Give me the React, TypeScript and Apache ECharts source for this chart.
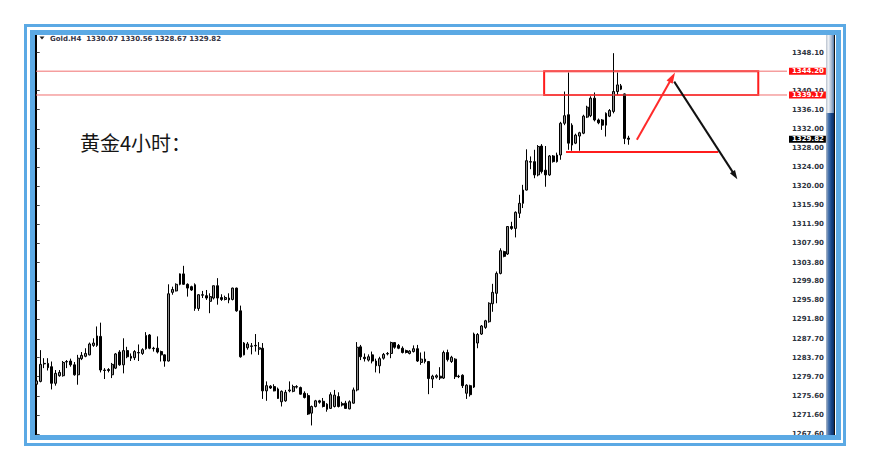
import React, { useEffect, useRef } from 'react';
import * as echarts from 'echarts';

// open, close, low, high  (one entry per 4-hour bar, oldest first)
const ohlc: [number, number, number, number][] = [
  [1278.1, 1278.8, 1277.9, 1279.0], [1278.7, 1282.3, 1278.5, 1285.3], [1282.5, 1282.4, 1281.5, 1283.6],
  [1282.5, 1281.6, 1281.0, 1283.6], [1281.8, 1278.3, 1277.0, 1282.9], [1278.3, 1280.4, 1277.8, 1281.1],
  [1279.9, 1280.6, 1279.7, 1281.1], [1279.9, 1282.7, 1279.7, 1283.0], [1282.8, 1282.9, 1281.5, 1283.2],
  [1283.0, 1282.2, 1281.8, 1283.5], [1282.2, 1280.1, 1279.9, 1282.8], [1280.1, 1283.6, 1278.0, 1284.3],
  [1283.5, 1284.2, 1283.2, 1284.9], [1284.0, 1284.6, 1283.8, 1285.7], [1284.3, 1286.6, 1284.2, 1286.9],
  [1286.3, 1286.8, 1286.0, 1287.8], [1286.3, 1288.3, 1286.0, 1290.3], [1288.2, 1281.1, 1280.6, 1291.1],
  [1281.0, 1281.1, 1279.2, 1281.5], [1281.2, 1281.0, 1280.6, 1281.5], [1280.1, 1282.3, 1279.4, 1282.6],
  [1281.5, 1284.5, 1281.3, 1284.7], [1284.9, 1282.2, 1282.0, 1285.3], [1282.2, 1285.2, 1280.4, 1287.8],
  [1285.2, 1283.9, 1283.6, 1286.0], [1284.0, 1283.6, 1283.0, 1284.6], [1283.7, 1285.0, 1283.2, 1285.3],
  [1284.8, 1284.7, 1283.0, 1286.5], [1284.6, 1285.4, 1284.3, 1285.7], [1285.6, 1288.4, 1285.4, 1289.1],
  [1288.5, 1285.7, 1285.5, 1288.7], [1285.7, 1285.6, 1285.0, 1286.0], [1285.7, 1284.9, 1284.6, 1288.2],
  [1285.0, 1284.3, 1282.9, 1285.2], [1284.3, 1283.0, 1281.8, 1284.4], [1283.0, 1297.2, 1282.9, 1299.2],
  [1297.5, 1298.1, 1297.0, 1298.7], [1297.8, 1299.2, 1297.7, 1299.4], [1299.2, 1301.4, 1299.0, 1301.5],
  [1301.4, 1299.2, 1299.1, 1303.1], [1299.2, 1298.4, 1296.6, 1299.4], [1298.7, 1298.0, 1297.8, 1298.9],
  [1299.1, 1294.1, 1293.6, 1299.4], [1294.1, 1297.0, 1293.6, 1297.1], [1297.0, 1296.9, 1296.3, 1297.8],
  [1296.8, 1296.3, 1295.9, 1298.0], [1295.6, 1296.6, 1293.1, 1297.3], [1296.3, 1298.9, 1296.0, 1298.9],
  [1298.9, 1296.3, 1294.9, 1300.5], [1296.4, 1296.0, 1295.7, 1297.1], [1296.0, 1296.4, 1295.8, 1296.8],
  [1296.3, 1295.9, 1295.2, 1297.3], [1296.0, 1298.4, 1295.8, 1298.5], [1298.4, 1293.6, 1293.4, 1298.5],
  [1293.6, 1283.9, 1283.7, 1294.7], [1284.3, 1286.8, 1284.2, 1287.0], [1285.8, 1286.6, 1285.4, 1287.0],
  [1286.2, 1286.1, 1284.4, 1286.8], [1286.3, 1286.2, 1285.0, 1288.7], [1285.5, 1285.8, 1284.3, 1287.0],
  [1285.7, 1276.7, 1275.0, 1286.8], [1276.7, 1277.8, 1274.6, 1278.7], [1277.7, 1277.3, 1277.1, 1277.9],
  [1277.6, 1276.7, 1276.6, 1278.1], [1277.1, 1275.1, 1275.0, 1277.4], [1274.4, 1276.6, 1273.4, 1276.8],
  [1274.6, 1276.4, 1274.4, 1276.9], [1276.7, 1276.9, 1276.4, 1278.7], [1276.6, 1277.6, 1276.4, 1278.0],
  [1277.6, 1277.5, 1277.2, 1277.9], [1277.4, 1276.0, 1275.9, 1277.6], [1276.2, 1275.3, 1275.1, 1276.6],
  [1275.7, 1271.8, 1271.6, 1276.2], [1272.0, 1273.4, 1269.4, 1273.6], [1273.4, 1274.6, 1273.2, 1274.8],
  [1274.6, 1274.3, 1274.0, 1274.8], [1274.5, 1273.4, 1273.2, 1275.2], [1272.8, 1273.9, 1272.3, 1274.1],
  [1273.0, 1275.9, 1272.9, 1276.4], [1273.4, 1275.8, 1273.2, 1276.9], [1275.5, 1273.4, 1273.2, 1276.4],
  [1274.0, 1273.7, 1273.4, 1274.4], [1274.1, 1273.0, 1272.9, 1274.6], [1272.9, 1274.4, 1272.8, 1274.7],
  [1274.1, 1276.9, 1274.0, 1277.4], [1276.9, 1285.9, 1276.6, 1287.0], [1286.0, 1283.9, 1283.2, 1286.4],
  [1283.8, 1283.5, 1282.9, 1284.6], [1283.2, 1283.9, 1282.9, 1284.4], [1284.3, 1283.0, 1282.5, 1285.0],
  [1283.0, 1282.0, 1280.6, 1283.5], [1282.0, 1283.5, 1280.4, 1283.9], [1283.6, 1284.4, 1283.3, 1284.7],
  [1284.5, 1284.6, 1284.2, 1284.9], [1284.6, 1286.9, 1283.6, 1287.1], [1286.9, 1285.9, 1285.6, 1287.0],
  [1286.3, 1285.7, 1285.5, 1286.6], [1285.7, 1284.8, 1284.6, 1286.1], [1285.2, 1284.8, 1284.6, 1285.4],
  [1284.6, 1285.1, 1284.4, 1285.3], [1285.0, 1285.6, 1284.8, 1286.3], [1285.6, 1283.0, 1282.8, 1286.4],
  [1282.7, 1283.4, 1282.2, 1284.8], [1283.4, 1282.9, 1282.5, 1285.0], [1282.9, 1279.3, 1276.0, 1283.0],
  [1279.2, 1279.8, 1277.3, 1280.1], [1279.6, 1279.9, 1279.3, 1280.2], [1279.8, 1279.4, 1279.0, 1281.7],
  [1279.4, 1284.8, 1279.2, 1285.2], [1284.8, 1283.3, 1282.9, 1285.4], [1282.9, 1283.8, 1282.6, 1284.1],
  [1283.4, 1279.7, 1279.2, 1283.6], [1279.8, 1279.7, 1279.4, 1280.1], [1280.0, 1277.8, 1277.3, 1280.2],
  [1276.2, 1277.9, 1275.0, 1278.1], [1277.8, 1275.9, 1275.5, 1278.0], [1277.5, 1288.7, 1277.3, 1289.0],
  [1286.8, 1288.6, 1285.7, 1288.9], [1288.7, 1290.4, 1288.5, 1290.6], [1290.1, 1291.5, 1289.8, 1291.7],
  [1291.3, 1295.2, 1291.1, 1295.4], [1295.1, 1297.5, 1293.4, 1299.3], [1297.3, 1301.5, 1295.2, 1301.9],
  [1301.5, 1306.3, 1301.3, 1306.8], [1306.1, 1305.1, 1304.9, 1306.3], [1305.6, 1311.4, 1305.4, 1311.5],
  [1311.4, 1311.0, 1310.7, 1312.4], [1311.0, 1314.4, 1309.1, 1314.6], [1314.2, 1316.3, 1313.2, 1318.1],
  [1316.3, 1319.1, 1315.3, 1320.2], [1319.1, 1325.3, 1319.0, 1327.7], [1325.1, 1325.0, 1323.5, 1326.2],
  [1325.1, 1322.3, 1321.6, 1327.6], [1322.3, 1328.3, 1322.0, 1328.6], [1328.4, 1323.0, 1322.6, 1328.8],
  [1323.3, 1322.3, 1319.8, 1328.4], [1322.3, 1326.3, 1322.1, 1326.5], [1326.3, 1325.1, 1324.9, 1326.5],
  [1325.1, 1326.5, 1324.9, 1327.0], [1326.5, 1333.2, 1325.5, 1333.5], [1333.2, 1334.8, 1332.8, 1339.9],
  [1335.0, 1329.0, 1327.6, 1343.9], [1328.6, 1332.8, 1327.4, 1333.2], [1329.0, 1330.7, 1328.8, 1331.0],
  [1330.5, 1331.2, 1327.4, 1331.4], [1331.1, 1334.7, 1330.9, 1335.0], [1334.5, 1336.6, 1334.3, 1336.9],
  [1334.8, 1338.5, 1334.5, 1338.9], [1338.5, 1333.9, 1333.6, 1339.7], [1333.9, 1333.3, 1333.0, 1334.2],
  [1333.9, 1332.8, 1331.8, 1334.1], [1332.8, 1335.3, 1330.4, 1335.5], [1334.7, 1335.9, 1334.5, 1336.2],
  [1335.7, 1339.9, 1335.3, 1348.0], [1339.9, 1341.3, 1339.2, 1343.9], [1341.1, 1340.4, 1340.2, 1341.5],
  [1339.4, 1330.0, 1328.8, 1339.5], [1330.07, 1329.82, 1328.67, 1330.56],
];

const priceTicks = [
  '1348.10', '1340.10', '1336.10', '1332.00', '1328.00', '1324.00', '1320.00', '1315.90', '1311.90',
  '1307.90', '1303.80', '1299.80', '1295.80', '1291.80', '1287.70', '1283.70', '1279.70', '1275.60',
  '1271.60', '1267.60',
];
const levelLines = [1344.2, 1339.17];
const levelLabels = ['1344.20', '1339.17'];
const lastPrice = 1329.82;
const lastPriceLabel = '1329.82';
const headerText = 'Gold.H4  1330.07 1330.56 1328.67 1329.82';
const noteText = '黄金4小时：';
// annotation anchors in (bar index, price)
const zoneBox = { from: [134.6, 1344.2], to: [191.4, 1339.17] };
const supportLine = { from: [140.4, 1327.14], to: [180.8, 1327.14] };
const upArrow = { from: [159.2, 1329.7], to: [168.6, 1342.9] };
const downArrow = { from: [169.1, 1342.0], to: [185.2, 1322.2] };

const Y_MIN = 1266.96;
const Y_MAX = 1352.26;
const X_MIN = -0.186;
const X_MAX = 199.02;

const BLUE = '#5ba9e4';

export default function App() {
  const ref = useRef<HTMLDivElement>(null);

  useEffect(() => {
    if (!ref.current) return;
    const chart = echarts.init(ref.current, null, { renderer: 'svg' });
    const tickValues = priceTicks.map(Number);
    const labelFont = { fontFamily: 'DejaVu Sans', fontWeight: 'bold' as const, fontSize: 7 };
    const boxLabel = (text: string, bg: string) => ({
      show: true,
      distance: 2,
      formatter: text,
      backgroundColor: bg,
      color: '#ffffff',
      ...labelFont,
      lineHeight: 7,
      padding: [0, 2, 0, 3],
    });
    const levelSeries = (value: number, label: string, lineColor: string, bg: string, opacity: number) => ({
      type: 'line',
      silent: true,
      symbol: 'none',
      z: 3,
      data: [[X_MIN, value], [X_MAX, value]],
      lineStyle: { color: lineColor, width: 1, opacity },
      itemStyle: { color: lineColor },
      endLabel: boxLabel(label, bg),
      emphasis: { disabled: true },
    });

    chart.setOption({
      animation: false,
      grid: { left: 36, right: 83, top: 33, bottom: 33 },
      xAxis: { type: 'value', min: X_MIN, max: X_MAX, show: false },
      yAxis: {
        type: 'value',
        position: 'right',
        min: Y_MIN,
        max: Y_MAX,
        splitLine: { show: false },
        axisLine: { show: true, lineStyle: { color: '#000', width: 1 } },
        axisTick: { show: true, length: 3, lineStyle: { color: '#444' }, customValues: tickValues },
        axisLabel: {
          customValues: tickValues,
          formatter: (v: number) => {
            const t = priceTicks.find((s) => Math.abs(Number(s) - v) < 1e-6);
            return t ?? v.toFixed(2);
          },
          color: '#2e3440',
          margin: 5,
          ...labelFont,
        },
      },
      graphic: [
        { type: 'polygon', z: 10, shape: { points: [[39.5, 36.5], [44.5, 36.5], [42, 39.5]] }, style: { fill: '#222' } },
        {
          type: 'text', z: 10, x: 50, y: 38.5,
          style: { text: headerText, fill: '#343444', fontFamily: 'DejaVu Sans', fontWeight: 'bold', fontSize: 7, verticalAlign: 'middle' },
        },
        {
          type: 'text', z: 10, x: 80, y: 142,
          style: { text: noteText, fill: '#151515', fontFamily: 'Noto Sans CJK SC', fontSize: 20, verticalAlign: 'middle' },
        },
      ],
      series: [
        levelSeries(levelLines[0], levelLabels[0], '#f07070', '#ff1010', 1),
        levelSeries(levelLines[1], levelLabels[1], '#f07070', '#ff1010', 1),
        levelSeries(lastPrice, lastPriceLabel, '#000000', '#000000', 0),
        {
          type: 'candlestick',
          z: 2,
          data: ohlc.map((c, i) => [i, c[0], c[1], c[2], c[3]]),
          barWidth: 2.4,
          itemStyle: {
            color: '#8c8c8c',
            color0: '#000000',
            borderColor: '#000000',
            borderColor0: '#000000',
            borderWidth: 1,
          },
          markArea: {
            silent: true,
            label: { show: false },
            itemStyle: { color: 'rgba(0,0,0,0)', borderColor: '#ff1c1c', borderWidth: 2 },
            data: [[
              { xAxis: zoneBox.from[0], yAxis: zoneBox.from[1] },
              { xAxis: zoneBox.to[0], yAxis: zoneBox.to[1] },
            ]],
          },
          markLine: {
            silent: true,
            symbol: ['none', 'none'],
            label: { show: false },
            data: [
              [
                { coord: supportLine.from, lineStyle: { color: '#ff1c1c', width: 2, type: 'solid' } },
                { coord: supportLine.to },
              ],
              [
                { coord: upArrow.from, symbol: 'none', lineStyle: { color: '#ff2a2a', width: 2, type: 'solid' } },
                { coord: upArrow.to, symbol: 'triangle', symbolSize: [7, 11] },
              ],
              [
                { coord: downArrow.from, symbol: 'none', lineStyle: { color: '#111111', width: 2, type: 'solid' } },
                { coord: downArrow.to, symbol: 'triangle', symbolSize: [6, 9] },
              ],
            ],
          },
        },
      ],
    });
    return () => chart.dispose();
  }, []);

  const abs = (s: React.CSSProperties): React.CSSProperties => ({ position: 'absolute', pointerEvents: 'none', boxSizing: 'border-box', ...s });

  return (
    <div style={{ position: 'fixed', left: 0, top: 0, width: 870, height: 470, background: '#fff', overflow: 'hidden' }}>
      <div ref={ref} style={{ position: 'absolute', left: 0, top: 0, width: 870, height: 470 }} />
      <div style={abs({ left: 826, top: 35, width: 8, height: 78, background: 'linear-gradient(to right, #b9c2ce, #eef1f5 30%, #a5b8d2 70%, #557aa6)' })} />
      <div style={abs({ left: 826, top: 113, width: 8, height: 322, background: 'linear-gradient(to right, #a9b5c6, #3d6caa 35%, #144385 70%, #0b2d62)' })} />
      <div style={abs({ left: 834, top: 35, width: 1, height: 400, background: '#111' })} />
      <div style={abs({ left: 35, top: 35, width: 1, height: 400, background: '#000' })} />
      <div style={abs({ left: 30, top: 30, width: 811, height: 410, border: `5px solid ${BLUE}` })} />
      <div style={abs({ left: 24, top: 24, width: 822, height: 422, border: `3px solid ${BLUE}` })} />
    </div>
  );
}
